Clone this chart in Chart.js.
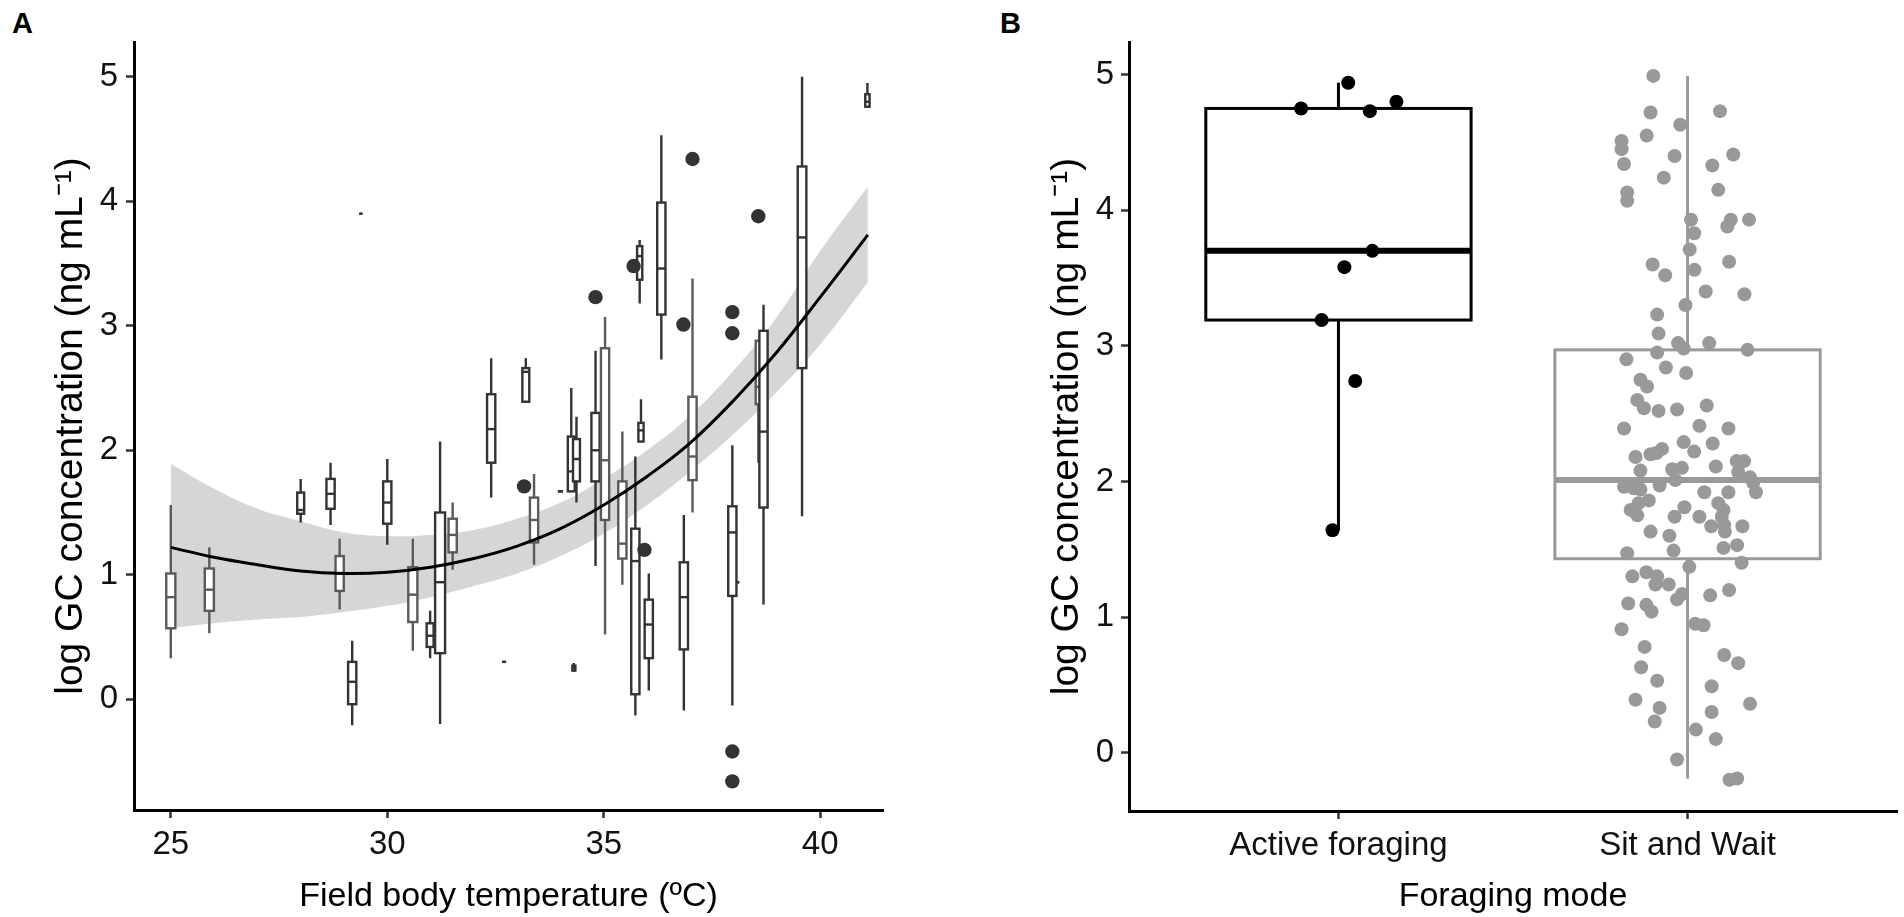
<!DOCTYPE html>
<html><head><meta charset="utf-8">
<script src="https://cdn.jsdelivr.net/npm/chart.js@4.4.1/dist/chart.umd.min.js"></script>
<style>
html,body{margin:0;padding:0;background:#fff;width:1904px;height:917px;overflow:hidden}
#wa{position:absolute;left:0;top:0;width:940px;height:917px}
#wb{position:absolute;left:950px;top:0;width:954px;height:917px}
.lab{position:absolute;font-weight:bold;font-size:29px;line-height:1;font-family:"Liberation Sans",Arial,sans-serif;color:#000}
</style></head><body>
<div class="lab" style="left:12px;top:9px">A</div>
<div class="lab" style="left:1000px;top:9px">B</div>
<div id="wa"><canvas id="ca"></canvas></div>
<div id="wb"><canvas id="cb"></canvas></div>
<script>
const FONT = '"Liberation Sans", Arial, Helvetica, sans-serif';

// ---------------- Panel A data ----------------
const boxTemp = [25.00,25.89,28.00,28.69,28.90,29.19,29.39,30.00,30.59,30.99,31.22,31.51,32.40,32.70,33.20,33.39,34.00,34.25,34.31,34.37,34.81,35.03,35.43,35.73,35.86,35.83,36.04,36.33,36.85,37.05,37.97,38.10,38.57,38.69,39.58,41.09];
const boxLow  = [0.33,0.53,1.42,1.40,0.72,-0.21,3.90,1.24,0.39,0.33,-0.20,1.04,1.62,0.30,2.39,1.08,1.67,1.67,0.22,1.58,1.07,0.52,0.92,-0.13,2.07,3.18,0.07,2.73,-0.09,1.50,-0.05,0.94,1.90,0.76,1.47,4.75];
const boxQ1   = [0.57,0.71,1.49,1.53,0.87,-0.04,3.90,1.41,0.62,0.42,0.37,1.18,1.90,0.30,2.39,1.26,1.67,1.67,0.23,1.75,1.75,1.44,1.13,0.04,2.07,3.37,0.33,3.09,0.40,1.76,0.83,0.94,2.37,1.54,2.66,4.76];
const boxMed  = [0.82,0.88,1.52,1.65,1.01,0.14,3.90,1.58,0.84,0.51,0.94,1.32,2.17,0.30,2.63,1.44,1.67,1.83,0.25,1.93,2.00,1.92,1.25,1.11,2.16,3.56,0.60,3.46,0.82,1.95,1.34,0.94,2.51,2.15,3.71,4.80];
const boxQ3   = [1.01,1.05,1.66,1.77,1.15,0.30,3.90,1.75,1.06,0.61,1.50,1.45,2.45,0.30,2.66,1.62,1.67,2.11,0.27,2.09,2.30,2.82,1.75,1.37,2.22,3.64,0.80,3.99,1.10,2.43,1.55,0.94,2.88,2.96,4.28,4.86];
const boxHigh = [1.56,1.22,1.77,1.90,1.29,0.47,3.90,1.93,1.29,0.71,2.07,1.58,2.74,0.30,2.74,1.81,1.67,2.50,0.29,2.27,2.80,3.07,2.15,1.95,2.41,3.69,1.01,4.53,1.48,3.38,2.04,0.94,2.88,3.17,5.00,4.95];
const outTemp = [33.16,34.81,35.69,35.94,36.84,37.05,37.97,37.97,37.97,37.97,38.57];
const outGC   = [1.71,3.23,3.48,1.20,3.01,4.34,3.11,2.94,-0.42,-0.66,3.88];
const fitTemp  = [25,26,27,28,29,30,31,32,33,34,35,36,37,38,39,40,41.1];
const fitGC    = [1.22,1.14,1.08,1.03,1.01,1.02,1.06,1.13,1.23,1.37,1.56,1.79,2.06,2.40,2.79,3.23,3.73];
const fitLower = [0.57,0.61,0.64,0.66,0.70,0.75,0.82,0.91,1.01,1.15,1.33,1.56,1.83,2.13,2.47,2.85,3.35];
const fitUpper = [1.89,1.69,1.53,1.43,1.34,1.31,1.32,1.36,1.45,1.58,1.77,2.00,2.28,2.64,3.07,3.60,4.12];
const tempTicks = [25,30,35,40];
const gcTicksA  = [0,1,2,3,4,5];

// ---------------- Panel B data ----------------
const modeLabels = ['Active foraging','Sit and Wait'];
const modeLow  = [1.64,-0.19];
const modeQ1   = [3.19,1.43];
const modeMed  = [3.70,2.01];
const modeQ3   = [4.75,2.97];
const modeHigh = [4.94,4.99];
const activeGC     = [1.64,2.74,3.19,3.58,3.70,4.75,4.94,4.73,4.80];
const activeJitter = [-0.017,0.048,-0.048,0.017,0.097,-0.107,0.028,0.090,0.166];
const sitGC = [4.99,4.72,4.73,4.63,4.55,4.51,4.45,4.34,4.40,4.41,4.33,4.24,4.15,4.13,4.07,3.93,3.93,3.88,3.93,3.83,3.71,3.60,3.52,3.62,3.56,3.40,3.38,3.30,3.23,3.09,3.02,3.02,2.98,2.95,2.97,2.90,2.84,2.80,2.75,2.70,2.60,2.54,2.52,2.53,2.56,2.39,2.41,2.39,2.29,2.28,2.22,2.18,2.20,2.24,2.21,2.11,2.15,2.15,2.08,2.09,2.10,2.07,2.01,2.03,1.96,1.95,1.94,1.97,1.99,1.92,1.92,1.92,1.86,1.84,1.79,1.75,1.81,1.84,1.79,1.74,1.74,1.74,1.67,1.68,1.63,1.67,1.63,1.60,1.49,1.51,1.53,1.47,1.40,1.37,1.30,1.33,1.30,1.24,1.24,1.17,1.13,1.16,1.20,1.10,1.09,1.04,0.95,0.94,0.91,0.78,0.72,0.66,0.63,0.53,0.49,0.39,0.33,0.36,0.30,0.23,0.17,0.10,-0.05,-0.20,-0.19];
const sitJitter = [-0.098,-0.106,0.093,-0.021,-0.117,-0.189,-0.189,-0.182,-0.037,0.131,0.071,-0.068,0.088,-0.173,-0.173,0.010,0.124,0.114,0.176,0.019,0.006,-0.100,-0.064,0.119,0.020,0.052,0.163,-0.006,-0.087,-0.083,-0.027,0.062,-0.011,-0.087,0.172,-0.175,-0.062,-0.004,-0.135,-0.116,-0.144,-0.125,-0.083,-0.030,0.055,-0.182,0.034,0.117,-0.011,0.072,0.019,-0.149,-0.106,-0.073,-0.089,0.081,0.141,0.162,-0.135,-0.044,-0.016,0.145,-0.035,0.179,-0.182,-0.154,-0.135,-0.080,0.188,0.196,0.048,0.117,-0.111,-0.140,-0.163,-0.144,-0.009,0.088,0.103,-0.037,0.034,0.098,0.068,0.105,0.107,0.157,-0.106,-0.052,-0.040,0.103,0.142,-0.173,0.155,0.005,-0.158,-0.118,-0.087,-0.092,-0.054,-0.016,-0.030,0.065,0.119,-0.170,-0.118,-0.103,0.022,0.046,-0.189,-0.123,0.105,0.145,-0.133,-0.087,0.069,-0.149,-0.080,0.179,0.069,-0.094,0.024,0.081,-0.030,0.120,0.142];
const gcTicksB = [0,1,2,3,4,5];

// ---------------- styles (not data) ----------------
const boxWidthA = [0.21,0.21,0.16,0.19,0.19,0.19,0.07,0.19,0.21,0.16,0.23,0.19,0.19,0.09,0.16,0.19,0.12,0.16,0.07,0.16,0.19,0.19,0.19,0.19,0.12,0.12,0.19,0.19,0.19,0.19,0.19,0.06,0.12,0.19,0.20,0.10];
const boxShadeA = 'LLDDLDDDLDDLDDDLDDDDDLLDDDDDDLDDLDDD';
const DARK = '#333333', LIGHT = '#5a5a5a';
const boxWidthB = 0.76;
const modeColors = ['#000000','#999999'];

function drawBoxes(chart, xs, lo, q1, md, q3, hi, widths, colors, lw, mlw) {
  const {ctx, scales: {x, y}} = chart;
  ctx.save();
  ctx.lineCap = 'butt';
  for (let i = 0; i < xs.length; i++) {
    const cx = x.getPixelForValue(xs[i]);
    const xl = x.getPixelForValue(xs[i] - widths[i] / 2);
    const xr = x.getPixelForValue(xs[i] + widths[i] / 2);
    const yLo = y.getPixelForValue(lo[i]), yQ1 = y.getPixelForValue(q1[i]);
    const yMd = y.getPixelForValue(md[i]), yQ3 = y.getPixelForValue(q3[i]);
    const yHi = y.getPixelForValue(hi[i]);
    ctx.strokeStyle = colors[i];
    ctx.lineWidth = lw;
    ctx.beginPath();
    ctx.moveTo(cx, yHi); ctx.lineTo(cx, yQ3);
    ctx.moveTo(cx, yQ1); ctx.lineTo(cx, yLo);
    ctx.stroke();
    ctx.fillStyle = '#ffffff';
    ctx.fillRect(xl, yQ3, xr - xl, yQ1 - yQ3);
    ctx.strokeRect(xl, yQ3, xr - xl, yQ1 - yQ3);
    ctx.lineWidth = mlw;
    ctx.beginPath();
    ctx.moveTo(xl, yMd); ctx.lineTo(xr, yMd);
    ctx.stroke();
  }
  ctx.restore();
}

function yAxis(min, max, ticks, title, titlePad, width, tickPad) {
  return {
    type: 'linear', min, max,
    afterBuildTicks: s => { s.ticks = ticks.map(v => ({value: v})); },
    afterFit: s => { s.width = width; },
    ticks: {font: {family: FONT, size: 33}, color: '#111', padding: tickPad, callback: v => String(v)},
    grid: {display: true, drawOnChartArea: false, drawTicks: true, tickLength: 8, tickWidth: 2.5, tickColor: '#333'},
    border: {display: true, color: '#000', width: 3},
    title: {display: true, text: title, color: '#000', font: {family: FONT, size: 39}, padding: {top: titlePad, bottom: 0}}
  };
}
function xAxis(min, max, ticks, labelFn, title, height) {
  return {
    type: 'linear', min, max,
    afterBuildTicks: s => { s.ticks = ticks.map(v => ({value: v})); },
    afterFit: s => { s.height = height; },
    ticks: {font: {family: FONT, size: 33}, color: '#111', padding: 7, maxRotation: 0, autoSkip: false, callback: labelFn},
    grid: {display: true, drawOnChartArea: false, drawTicks: true, tickLength: 8, tickWidth: 2.5, tickColor: '#333'},
    border: {display: true, color: '#000', width: 3},
    title: {display: true, text: title, color: '#000', font: {family: FONT, size: 34}, padding: {top: 0, bottom: 0}}
  };
}
const yTitle = 'log GC concentration (ng mL\u207B\u00B9)';

// ---------------- Panel A chart ----------------
const boxPluginA = {
  id: 'boxesA',
  afterDatasetDraw(chart, args) {
    if (args.index !== 2) return;
    drawBoxes(chart, boxTemp, boxLow, boxQ1, boxMed, boxQ3, boxHigh, boxWidthA,
      boxShadeA.split('').map(c => c === 'L' ? LIGHT : DARK), 2.4, 2.4);
  }
};
new Chart(document.getElementById('ca'), {
  type: 'scatter',
  data: {
    datasets: [
      {label: 'outliers', order: 0, data: outTemp.map((t, i) => ({x: t, y: outGC[i]})),
       pointRadius: 7.2, pointBackgroundColor: '#333333', pointBorderWidth: 0, showLine: false},
      {label: 'fit', order: 1, type: 'line', data: fitTemp.map((t, i) => ({x: t, y: fitGC[i]})),
       borderColor: '#000', borderWidth: 3, pointRadius: 0, tension: 0.4, fill: false},
      {label: 'upper', order: 2, type: 'line', data: fitTemp.map((t, i) => ({x: t, y: fitUpper[i]})),
       borderWidth: 0, borderColor: 'rgba(0,0,0,0)', pointRadius: 0, tension: 0.4,
       fill: '+1', backgroundColor: 'rgba(153,153,153,0.4)'},
      {label: 'lower', order: 3, type: 'line', data: fitTemp.map((t, i) => ({x: t, y: fitLower[i]})),
       borderWidth: 0, borderColor: 'rgba(0,0,0,0)', pointRadius: 0, tension: 0.4, fill: false}
    ]
  },
  options: {
    responsive: true, maintainAspectRatio: false, animation: false,
    layout: {padding: {top: 42, right: 57, left: 0, bottom: 0}},
    plugins: {legend: {display: false}, tooltip: {enabled: false}},
    scales: {
      x: xAxis(24.15, 41.45, tempTicks, v => String(v), 'Field body temperature (\u00BAC)', 107),
      y: yAxis(-0.89, 5.28, gcTicksA, yTitle, 48, 134, 8)
    }
  },
  plugins: [boxPluginA]
});

// ---------------- Panel B chart ----------------
const boxPluginB = {
  id: 'boxesB',
  beforeDatasetsDraw(chart) {
    drawBoxes(chart, [1, 2], modeLow, modeQ1, modeMed, modeQ3, modeHigh,
      [boxWidthB, boxWidthB], modeColors, 3, 6);
  }
};
new Chart(document.getElementById('cb'), {
  type: 'scatter',
  data: {
    datasets: [
      {label: modeLabels[0], data: activeGC.map((v, i) => ({x: 1 + activeJitter[i], y: v})),
       pointRadius: 7, pointBackgroundColor: '#000', pointBorderWidth: 0},
      {label: modeLabels[1], data: sitGC.map((v, i) => ({x: 2 + sitJitter[i], y: v})),
       pointRadius: 7, pointBackgroundColor: '#999999', pointBorderWidth: 0}
    ]
  },
  options: {
    responsive: true, maintainAspectRatio: false, animation: false,
    layout: {padding: {top: 42, right: 3, left: 0, bottom: 0}},
    plugins: {legend: {display: false}, tooltip: {enabled: false}},
    scales: {
      x: xAxis(0.4, 2.6, [1, 2], v => modeLabels[Math.round(v) - 1], 'Foraging mode', 106),
      y: yAxis(-0.43, 5.24, gcTicksB, yTitle, 94, 179, 7)
    }
  },
  plugins: [boxPluginB]
});
</script>
</body></html>
